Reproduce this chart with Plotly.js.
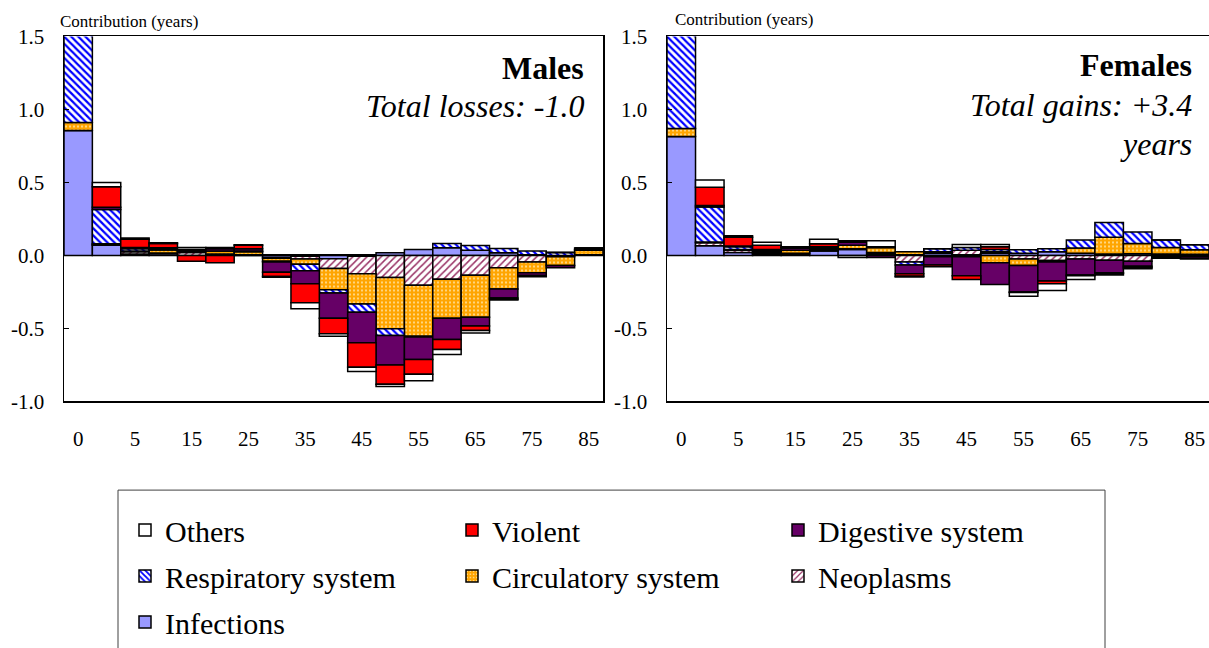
<!DOCTYPE html>
<html><head><meta charset="utf-8">
<script src="https://cdn.plot.ly/plotly-3.0.1.min.js"></script>
<style>html,body{margin:0;padding:0;background:#fff;font-family:'Liberation Serif',serif}#chart{width:1209px;height:648px}
#chart svg text{font-family:'Liberation Serif',serif !important}</style>
</head><body><div id="chart"></div>
<script>
// ---- data ----
const ageGroups = ['0','1','5','10','15','20','25','30','35','40','45','50','55','60','65','70','75','80','85'];
const tickAges = ['0','5','15','25','35','45','55','65','75','85'];
const yTickVals = [-1, -0.5, 0, 0.5, 1, 1.5];
const yTickText = ['-1.0','-0.5','0.0','0.5','1.0','1.5'];

// Males (contribution, years)
const malesInfections   = [0.855, 0.07, 0.01, 0.012, 0, 0.005, 0, -0.015, -0.005, -0.023, -0.005, 0.018, 0.04, 0.052, 0.036, 0.018, 0.005, 0, 0.005];
const malesNeoplasms    = [0, 0.005, 0.015, 0.005, 0.02, 0.005, 0.005, -0.005, -0.02, -0.067, -0.12, -0.152, -0.204, -0.163, -0.136, -0.084, -0.045, -0.01, 0];
const malesCirculatory  = [0.055, 0.005, 0.005, 0.02, 0.005, 0.02, 0.02, -0.02, -0.035, -0.145, -0.208, -0.35, -0.35, -0.267, -0.287, -0.147, -0.073, -0.06, 0.03];
const malesRespiratory  = [0.75, 0.235, 0.015, 0.005, 0.005, 0, 0.005, -0.005, -0.045, -0.023, -0.056, -0.046, -0.005, 0.03, 0.032, 0.03, 0.025, 0.02, 0.005];
const malesDigestive    = [0, 0.015, 0.01, 0.01, 0.01, 0.015, 0.015, -0.07, -0.09, -0.172, -0.21, -0.203, -0.154, -0.147, -0.061, -0.06, -0.02, -0.015, 0.01];
const malesViolent      = [0, 0.14, 0.055, 0.03, -0.04, -0.05, 0.025, -0.03, -0.13, -0.106, -0.167, -0.131, -0.102, -0.068, -0.03, -0.01, -0.005, 0, 0];
const malesOthers       = [0, 0.03, 0.01, 0.005, 0.015, 0.01, 0.003, -0.005, -0.04, -0.018, -0.029, -0.016, -0.043, -0.034, -0.018, -0.005, -0.003, 0, 0];

// Females (contribution, years)
const femalesInfections  = [0.815, 0.067, 0.02, 0.01, 0.005, 0.03, 0.04, 0.01, 0.005, 0.015, 0.005, 0.015, 0.015, 0.025, 0.015, 0.01, 0.012, 0.01, 0.008];
const femalesNeoplasms   = [0, 0.02, 0.015, 0.005, 0.01, 0.005, 0.005, 0.01, -0.045, 0.01, 0.03, 0.01, -0.025, -0.035, -0.025, -0.034, -0.04, -0.005, -0.005];
const femalesCirculatory = [0.055, 0.005, 0.005, 0.01, 0.02, 0.01, 0.025, 0.035, 0.02, -0.01, -0.01, -0.05, -0.045, -0.01, 0.035, 0.115, 0.07, 0.045, 0.03];
const femalesRespiratory = [0.75, 0.24, 0.02, 0.005, 0, 0.005, 0, 0, -0.02, 0.02, 0.02, 0.015, 0.023, 0.02, 0.055, 0.1, 0.078, 0.05, 0.035];
const femalesDigestive   = [0, 0.01, 0.005, 0.01, 0.015, 0.01, 0.02, -0.015, -0.06, -0.055, -0.13, -0.15, -0.18, -0.13, -0.11, -0.085, -0.035, -0.01, -0.015];
const femalesViolent     = [0, 0.125, 0.06, 0.03, 0.005, 0.02, 0.01, 0.005, -0.018, -0.012, -0.025, 0.02, -0.005, -0.02, -0.005, -0.005, -0.01, 0, 0];
const femalesOthers      = [0, 0.05, 0.01, 0.02, 0.005, 0.03, -0.015, 0.04, -0.005, 0, 0.02, 0.015, -0.025, -0.045, -0.025, -0.01, -0.007, -0.005, -0.005];

// ---- styling per cause (stack order bottom -> top) ----
const causes = [
  {name:'Infections', m:malesInfections, f:femalesInfections, color:'#9999FF', pattern:null, legend:'legend', rank:3},
  {name:'Neoplasms', m:malesNeoplasms, f:femalesNeoplasms, color:'#FFFFFF', pattern:{shape:'/', fgcolor:'#993366', bgcolor:'#FFFFFF', size:5, solidity:0.3}, legend:'legend3', rank:2},
  {name:'Circulatory system', m:malesCirculatory, f:femalesCirculatory, color:'#FFA500', pattern:{shape:'.', fgcolor:'#FFE6A8', bgcolor:'#FFA500', size:4, solidity:0.2}, legend:'legend2', rank:2},
  {name:'Respiratory system', m:malesRespiratory, f:femalesRespiratory, color:'#FFFFFF', pattern:{shape:'\\', fgcolor:'#0000FF', bgcolor:'#FFFFFF', size:5, solidity:0.45}, legend:'legend', rank:2},
  {name:'Digestive system', m:malesDigestive, f:femalesDigestive, color:'#660066', pattern:null, legend:'legend3', rank:1},
  {name:'Violent', m:malesViolent, f:femalesViolent, color:'#FF0000', pattern:null, legend:'legend2', rank:1},
  {name:'Others', m:malesOthers, f:femalesOthers, color:'#FFFFFF', pattern:null, legend:'legend', rank:1}
];

const xIdx = ageGroups.map((_, i) => i);
const tickIdx = tickAges.map(a => ageGroups.indexOf(a));
const boundaryIdx = ageGroups.slice(1).map((_, i) => i + 0.5);

const traces = [];
causes.forEach(c => {
  const marker = {color:c.color, line:{color:'#000000', width:1.5}};
  if (c.pattern) marker.pattern = Object.assign({fillmode:'replace'}, c.pattern);
  traces.push({type:'bar', name:c.name, x:xIdx, y:c.m, xaxis:'x', yaxis:'y', marker:marker,
    legend:c.legend, legendgroup:c.name, legendrank:c.rank, showlegend:true, hoverinfo:'name+y'});
  traces.push({type:'bar', name:c.name, x:xIdx, y:c.f, xaxis:'x2', yaxis:'y2', marker:marker,
    legend:c.legend, legendgroup:c.name, legendrank:c.rank, showlegend:false, hoverinfo:'name+y'});
});

const FONT = 'Liberation Serif';
const yDom = [(648-407)/648, (648-37)/648];
const zeroPos = yDom[0] + (0 - (-1)) / 2.5 * (yDom[1] - yDom[0]);
const xRange = [-0.5, ageGroups.length - 0.5];

function xAxis(domain, anchor) {
  return {domain:domain, anchor:anchor, range:xRange, tickmode:'array', tickvals:tickIdx, ticktext:tickAges,
    ticks:'', showline:true, mirror:true, linecolor:'#000', linewidth:1.5, showgrid:false, zeroline:false,
    tickfont:{family:FONT, size:21, color:'#000'}, ticklabelstandoff:18, fixedrange:true};
}
function yAxis(anchor) {
  return {domain:yDom, anchor:anchor, range:[-1, 1.5], tickmode:'array', tickvals:yTickVals, ticktext:yTickText,
    ticks:'inside', ticklen:5, tickcolor:'#000', showline:true, mirror:true, linecolor:'#000', linewidth:1.5,
    showgrid:false, zeroline:true, zerolinecolor:'#000', zerolinewidth:2,
    tickfont:{family:FONT, size:21, color:'#000'}, ticklabelstandoff:14, fixedrange:true};
}
function zeroTickAxis(over) {
  return {overlaying:over, anchor:'free', position:zeroPos, range:xRange, tickmode:'array', tickvals:boundaryIdx,
    ticks:'outside', ticklen:6, tickcolor:'#000', tickwidth:1, showticklabels:false, showline:false, showgrid:false,
    zeroline:false, side:'bottom', fixedrange:true};
}
function legendAt(xpx) {
  return {x:xpx/1209, xanchor:'left', y:(648-511)/648, yanchor:'top', orientation:'v',
    traceorder:'grouped', tracegroupgap:4, bgcolor:'rgba(0,0,0,0)', borderwidth:0,
    font:{family:FONT, size:30, color:'#000'}};
}

const layout = {
  width:1209, height:648, autosize:false,
  margin:{l:0, r:0, t:0, b:0},
  paper_bgcolor:'#fff', plot_bgcolor:'#fff',
  font:{family:FONT, color:'#000'},
  barmode:'relative', bargap:0,
  xaxis: xAxis([64/1209, 603/1209], 'y'),
  yaxis: yAxis('x'),
  xaxis2: xAxis([667/1209, 1], 'y2'),
  yaxis2: yAxis('x2'),
  xaxis3: zeroTickAxis('x'),
  xaxis4: zeroTickAxis('x2'),
  legend: legendAt(125),
  legend2: legendAt(452),
  legend3: legendAt(778),
  shapes:[{type:'rect', xref:'paper', yref:'paper', x0:118/1209, x1:1105/1209, y0:-0.02, y1:(648-497)/648,
    line:{color:'#404040', width:1}, fillcolor:'rgba(0,0,0,0)', layer:'below'}],
  annotations:[
    {text:'Contribution (years)', xref:'paper', yref:'paper', x:58/1209, y:(648-22)/648, xanchor:'left', yanchor:'middle', showarrow:false, font:{family:FONT, size:17}},
    {text:'Contribution (years)', xref:'paper', yref:'paper', x:673/1209, y:(648-20)/648, xanchor:'left', yanchor:'middle', showarrow:false, font:{family:FONT, size:17}},
    {text:'<b>Males</b>', xref:'paper', yref:'paper', x:586/1209, y:(648-69)/648, xanchor:'right', yanchor:'middle', showarrow:false, font:{family:FONT, size:32}},
    {text:'<i>Total losses: -1.0</i>', xref:'paper', yref:'paper', x:586/1209, y:(648-107)/648, xanchor:'right', yanchor:'middle', showarrow:false, font:{family:FONT, size:32}},
    {text:'<b>Females</b>', xref:'paper', yref:'paper', x:1194/1209, y:(648-66)/648, xanchor:'right', yanchor:'middle', showarrow:false, font:{family:FONT, size:32}},
    {text:'<i>Total gains: +3.4</i>', xref:'paper', yref:'paper', x:1194/1209, y:(648-106)/648, xanchor:'right', yanchor:'middle', showarrow:false, font:{family:FONT, size:32}},
    {text:'<i>years</i>', xref:'paper', yref:'paper', x:1194/1209, y:(648-146)/648, xanchor:'right', yanchor:'middle', showarrow:false, font:{family:FONT, size:32}}
  ]
};

Plotly.newPlot('chart', traces, layout, {displayModeBar:false, staticPlot:true});
</script></body></html>
